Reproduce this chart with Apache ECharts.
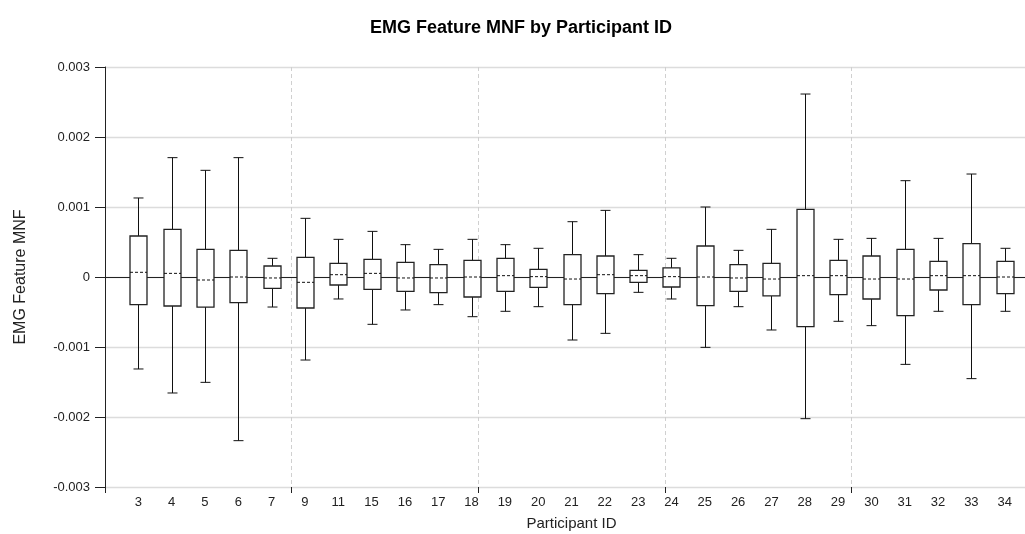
<!DOCTYPE html>
<html>
<head>
<meta charset="utf-8">
<script src="https://cdn.jsdelivr.net/npm/echarts@6/dist/echarts.min.js"></script>
<style>
  html, body { margin: 0; padding: 0; background: #fff; overflow: hidden; }
  #chart { width: 1025px; height: 534px; }
</style>
</head>
<body>
<div id="chart"></div>
<script>
// participant ids and box stats
const ids     = [3, 4, 5, 6, 7, 9, 11, 15, 16, 17, 18, 19, 20, 21, 22, 23, 24, 25, 26, 27, 28, 29, 30, 31, 32, 33, 34];
const mins    = [-0.001314, -0.001657, -0.001505, -0.002338, -0.000429, -0.001186, -0.000314, -0.000676, -0.000471, -0.000395, -0.000567, -0.000490, -0.000424, -0.000900, -0.000805, -0.000219, -0.000314, -0.001005, -0.000424, -0.000757, -0.002024, -0.000633, -0.000695, -0.001248, -0.000490, -0.001452, -0.000490];
const q1s     = [-0.000395, -0.000414, -0.000429, -0.000367, -0.000162, -0.000443, -0.000114, -0.000176, -0.000205, -0.000224, -0.000286, -0.000205, -0.000148, -0.000395, -0.000238, -0.000076, -0.000143, -0.000410, -0.000205, -0.000271, -0.000710, -0.000252, -0.000314, -0.000552, -0.000186, -0.000395, -0.000238];
const medians = [0.000067, 0.000052, -0.000043, 0.000000, -0.000014, -0.000076, 0.000033, 0.000052, -0.000014, -0.000014, 0.000000, 0.000019, 0.000005, -0.000029, 0.000033, 0.000019, 0.000005, 0.000000, -0.000014, -0.000029, 0.000019, 0.000019, -0.000029, -0.000029, 0.000019, 0.000019, 0.000000];
const q3s     = [0.000586, 0.000681, 0.000395, 0.000381, 0.000157, 0.000281, 0.000195, 0.000252, 0.000210, 0.000176, 0.000238, 0.000267, 0.000110, 0.000319, 0.000300, 0.000095, 0.000129, 0.000443, 0.000176, 0.000195, 0.000967, 0.000238, 0.000300, 0.000395, 0.000224, 0.000476, 0.000224];
const maxs    = [0.001129, 0.001705, 0.001524, 0.001705, 0.000267, 0.000838, 0.000538, 0.000652, 0.000462, 0.000395, 0.000538, 0.000462, 0.000410, 0.000790, 0.000952, 0.000319, 0.000267, 0.001000, 0.000381, 0.000681, 0.002614, 0.000538, 0.000552, 0.001376, 0.000552, 0.001471, 0.000410];

// category axis gets an empty slot at each end so boxes sit at 1..27
const cats = [''].concat(ids.map(String), ['']);
const boxData = ids.map((id, i) => [i + 1, mins[i], q1s[i], medians[i], q3s[i], maxs[i]]);

const font = 'Liberation Sans, Arial, sans-serif';
const chart = echarts.init(document.getElementById('chart'));

function renderBox(params, api) {
  const x = api.value(0);
  const pMin = api.coord([x, api.value(1)]);
  const pQ1 = api.coord([x, api.value(2)]);
  const pMed = api.coord([x, api.value(3)]);
  const pQ3 = api.coord([x, api.value(4)]);
  const pMax = api.coord([x, api.value(5)]);
  const band = api.size([1, 0])[0];
  const bw = band * 0.51;
  const cw = band * 0.3;
  const cx = Math.round(pMed[0]) + 0.5;
  const line = { stroke: '#111', lineWidth: 1 };
  return {
    type: 'group',
    children: [
      { type: 'line', shape: { x1: cx, y1: pMax[1], x2: cx, y2: pQ3[1] }, style: line },
      { type: 'line', shape: { x1: cx, y1: pQ1[1], x2: cx, y2: pMin[1] }, style: line },
      { type: 'line', shape: { x1: cx - cw / 2, y1: pMax[1], x2: cx + cw / 2, y2: pMax[1] }, style: line },
      { type: 'line', shape: { x1: cx - cw / 2, y1: pMin[1], x2: cx + cw / 2, y2: pMin[1] }, style: line },
      { type: 'rect', shape: { x: cx - bw / 2, y: pQ3[1], width: bw, height: pQ1[1] - pQ3[1] },
        style: { fill: '#fff', stroke: '#222', lineWidth: 1.3 } },
      { type: 'line', shape: { x1: cx - bw / 2, y1: pMed[1], x2: cx + bw / 2, y2: pMed[1] },
        style: { stroke: '#111', lineWidth: 1, lineDash: [3, 2] } }
    ]
  };
}

const option = {
  animation: false,
  backgroundColor: '#fff',
  title: {
    text: 'EMG Feature MNF by Participant ID',
    left: 365,
    top: 14,
    textStyle: { fontFamily: font, fontSize: 18, fontWeight: 'bold', color: '#000' }
  },
  grid: { left: 105, right: -13, top: 67, bottom: 47, outerBoundsMode: 'none' },
  xAxis: [{
    type: 'category',
    data: cats,
    boundaryGap: false,
    name: 'Participant ID',
    nameLocation: 'middle',
    nameGap: 29,
    nameTextStyle: { fontFamily: font, fontSize: 15, color: '#222' },
    axisLine: { lineStyle: { color: '#222', width: 1 } },
    axisTick: { show: false },
    axisLabel: { interval: 0, margin: 9, fontFamily: font, fontSize: 13, color: '#222' },
    splitLine: { show: false }
  }, {
    type: 'value',
    position: 'bottom',
    min: 0,
    max: 28,
    interval: 5.6,
    axisLine: { show: false },
    axisTick: { show: true, inside: false, length: 6, lineStyle: { color: '#222' } },
    axisLabel: { show: false },
    splitLine: { show: true, lineStyle: { color: '#d0d0d0', type: [4, 3], width: 1 } }
  }],
  yAxis: {
    type: 'value',
    min: -0.003,
    max: 0.003,
    interval: 0.001,
    name: 'EMG Feature MNF',
    nameLocation: 'middle',
    nameGap: 76,
    nameTextStyle: { fontFamily: font, fontSize: 16, color: '#222' },
    axisLine: { show: true, lineStyle: { color: '#222', width: 1 } },
    axisTick: { show: true, length: 10, lineStyle: { color: '#222' } },
    axisLabel: {
      margin: 15,
      fontFamily: font,
      fontSize: 13,
      color: '#222',
      formatter: (v) => Math.abs(v) < 1e-9 ? '0' : v.toFixed(3)
    },
    splitLine: { show: true, lineStyle: { color: '#dcdcdc', width: 1.3 } }
  },
  series: [{
    type: 'custom',
    xAxisIndex: 0,
    yAxisIndex: 0,
    renderItem: renderBox,
    encode: { x: 0, y: [1, 2, 3, 4, 5] },
    data: boxData,
    z: 5
  }]
};
chart.setOption(option);
</script>
</body>
</html>
